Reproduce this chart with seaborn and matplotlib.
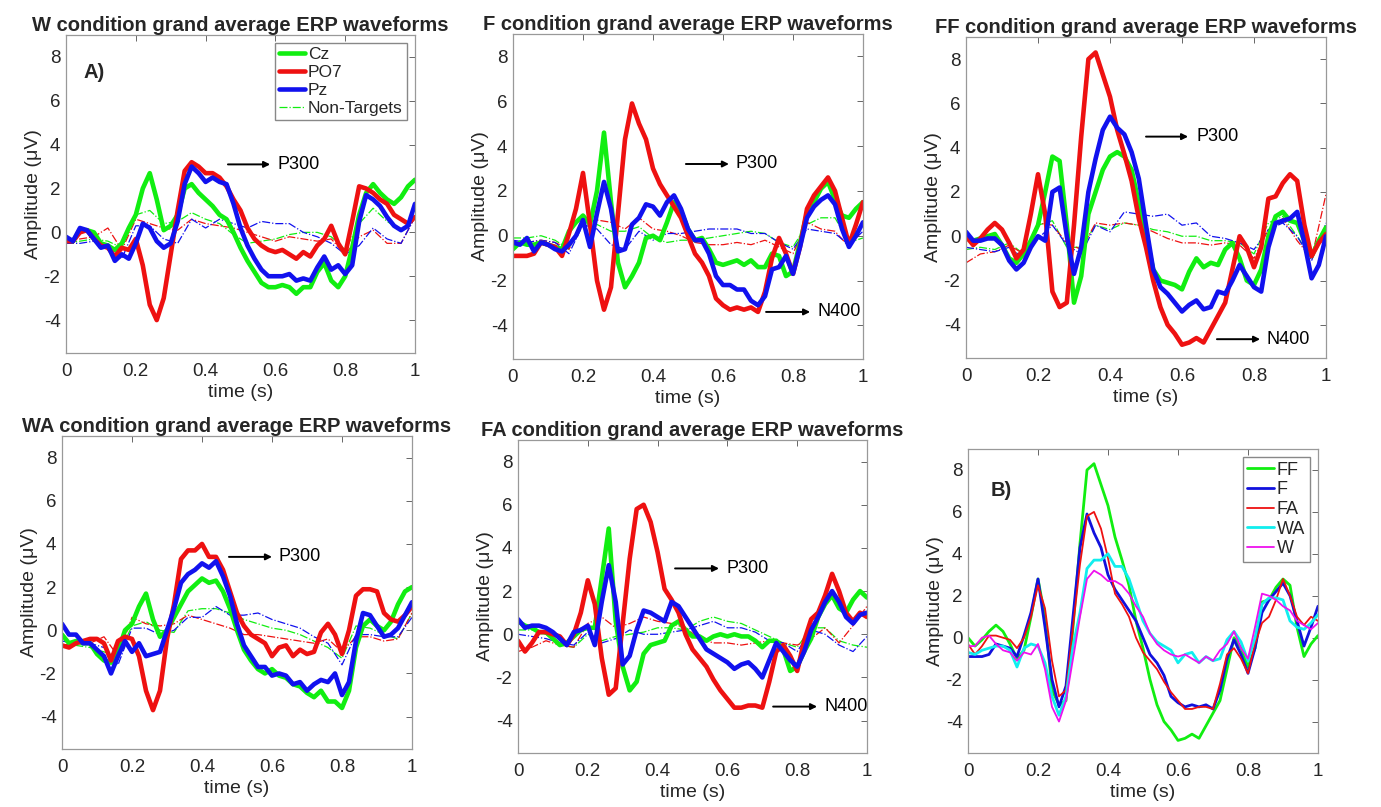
import matplotlib
matplotlib.use("Agg")
import matplotlib.pyplot as plt
from matplotlib.lines import Line2D
import numpy as np
import seaborn as sns

# eixo do tempo (s): curvas alvo a cada 20 ms, nao-alvo a cada 40 ms
T = np.round(np.arange(51) * 0.02, 2)
T_NT = np.round(np.arange(26) * 0.04, 2)

# --- W ---
W_CZ = [-0.3, -0.4, 0.1, 0.1, 0.0, -0.5, -0.6, -0.8, -0.5, 0.2, 0.8, 2.0, 2.7, 1.5, 0.1, 0.3, 0.8,
        2.0, 2.2, 1.8, 1.5, 1.2, 0.8, 0.6, 0.0, -0.7, -1.3, -1.8, -2.3, -2.5, -2.5, -2.4, -2.5, -2.8,
        -2.5, -2.5, -1.8, -1.4, -2.2, -2.5, -2.0, -0.7, 0.8, 1.8, 2.2, 1.8, 1.5, 1.3, 1.6, 2.1, 2.4]
W_PO7 = [-0.4, -0.4, 0.0, 0.1, -0.3, -0.6, -0.7, -1.1, -0.7, -0.8, -0.3, -1.5, -3.3, -4.0, -3.0, -1.0,
         1.0, 2.8, 3.2, 3.0, 2.7, 2.7, 2.5, 2.1, 1.5, 1.0, 0.2, -0.3, -0.6, -0.8, -0.9, -0.8, -1.0, -1.2,
         -0.9, -1.1, -0.6, -0.3, 0.3, -0.5, -1.0, 0.5, 2.1, 2.0, 1.8, 1.5, 1.3, 0.8, 0.6, 0.4, 0.7]
W_PZ = [-0.2, -0.4, 0.2, 0.1, -0.3, -0.7, -0.6, -1.3, -1.0, -1.2, -0.5, 0.4, 0.2, -0.4, -0.7, -0.5, 0.5,
        2.2, 3.0, 2.7, 2.3, 2.5, 2.3, 2.2, 1.3, 0.2, -0.6, -1.2, -1.7, -2.0, -2.0, -2.0, -1.9, -2.2, -2.1,
        -2.2, -1.6, -1.1, -1.7, -1.5, -1.9, -1.5, 0.5, 1.7, 1.5, 1.2, 0.7, 0.3, 0.1, 0.3, 1.3]
W_NT_CZ = [-0.5, -0.4, -0.3, -0.4, -0.7, 0.8, 1.0, 0.4, 0.5, 0.9, 0.6, 0.4, -0.1, -0.5, -0.4, -0.3,
           -0.1, 0.0, 0.0, -0.2, -0.8, 0.4, 1.1, 0.5, 0.1, 0.7]
W_NT_PO7 = [-0.4, -0.3, -0.2, 0.2, -0.8, 0.6, 0.4, 0.2, 0.1, 0.6, 0.4, 0.3, 0.2, 0.0, -0.2, -0.4,
            -0.2, -0.3, -0.4, -0.3, -1.0, -0.2, 0.1, -0.5, -0.5, 0.7]
W_NT_PZ = [-0.5, -0.5, -0.4, -0.6, -1.2, 0.3, 0.3, -0.3, -0.5, 0.6, 0.2, 0.6, 0.4, 0.2, 0.5, 0.4,
           0.4, 0.0, -0.2, -0.5, -1.0, -0.6, 0.2, -0.3, -0.5, 0.7]

# --- F ---
F_CZ = [-0.6, -0.3, -0.4, -0.4, -0.3, -0.4, -0.5, -0.6, 0.2, 0.6, 0.9, 0.5, 2.0, 4.6, 1.5, -1.2, -2.3,
        -1.8, -1.2, -0.1, 0.0, -0.2, 0.6, 1.5, 1.1, 0.3, -0.2, -0.1, -0.6, -1.2, -1.3, -1.2, -1.1, -1.3,
        -1.1, -1.4, -1.4, -0.8, -0.9, -1.8, -1.6, -0.3, 1.0, 1.5, 2.1, 2.4, 1.6, 0.9, 0.8, 1.2, 1.5]
F_PO7 = [-0.9, -0.9, -0.9, -0.8, -0.3, -0.4, -0.5, -0.9, 0.1, 1.2, 2.8, 0.5, -2.0, -3.3, -2.3, 1.0,
         4.3, 5.9, 5.0, 4.3, 3.0, 2.3, 1.8, 1.3, 0.8, 0.0, -0.8, -1.2, -1.8, -2.8, -3.1, -3.3, -3.2, -3.3,
         -3.2, -3.4, -2.5, -1.0, -0.1, -0.8, -1.7, -0.5, 1.2, 1.8, 2.2, 2.6, 2.0, 0.8, -0.4, 0.5, 1.5]
F_PZ = [-0.3, -0.4, -0.1, -0.7, -0.3, -0.4, -0.6, -0.7, -0.4, 0.0, 0.7, -0.5, 1.0, 2.4, 1.2, -0.7, -0.6,
        0.5, 0.8, 1.4, 1.3, 0.9, 1.5, 1.8, 1.2, 0.3, -0.2, -0.2, -0.8, -1.8, -2.2, -2.2, -2.4, -2.4, -2.9,
        -3.1, -2.7, -1.5, -1.4, -0.9, -1.7, -0.5, 0.8, 1.3, 1.6, 1.8, 1.4, 0.3, -0.5, 0.0, 0.6]
F_NT_CZ = [-0.1, -0.1, 0.0, -0.2, -0.6, 0.8, 0.5, 0.2, 0.2, 0.4, -0.1, -0.3, -0.2, -0.2, -0.1, 0.0,
           0.1, 0.2, 0.1, -0.3, -0.5, 0.5, 0.8, 0.8, -0.3, -0.1]
F_NT_PO7 = [-0.4, -0.3, -0.2, -0.3, -0.6, 0.6, 0.7, 0.6, 0.3, 0.8, 0.3, 0.2, 0.0, -0.3, -0.4, -0.4,
            -0.3, -0.4, -0.2, -0.5, -0.8, 0.6, 0.3, 0.2, -0.5, 0.5]
F_NT_PZ = [-0.2, -0.3, -0.2, -0.3, -0.8, 0.5, 0.3, -0.4, -0.6, 0.2, -0.2, 0.1, 0.1, 0.2, 0.3, 0.3,
           0.3, 0.1, 0.1, -0.3, -0.6, 0.3, 0.2, 0.1, -0.4, 0.2]

# --- FF ---
FF_CZ = [-0.1, -0.2, -0.1, 0.0, 0.1, -0.4, -1.0, -1.2, -0.8, -0.2, 0.5, 2.0, 3.6, 3.4, 0.5, -3.0, -1.8,
         1.0, 2.0, 3.0, 3.6, 3.8, 3.6, 3.0, 1.5, 0.0, -1.5, -2.0, -2.1, -2.2, -2.4, -1.6, -1.0, -1.4,
         -1.2, -1.3, -0.6, -0.3, -1.0, -2.0, -2.2, -1.5, 0.0, 0.9, 1.1, 0.7, 0.6, -0.2, -0.9, -0.2, 0.4]
FF_PO7 = [0.0, -0.4, -0.1, 0.3, 0.6, 0.3, -0.3, -1.0, -0.6, 1.0, 2.8, 1.0, -2.5, -3.2, -3.0, 0.5,
          4.5, 8.0, 8.3, 7.3, 6.3, 4.8, 3.7, 2.5, 0.8, -0.5, -2.0, -3.2, -4.0, -4.4, -4.9, -4.8, -4.6,
          -4.8, -4.2, -3.6, -3.0, -1.5, 0.0, -0.5, -1.4, -0.5, 1.7, 1.8, 2.4, 2.8, 2.5, 0.5, -0.9, -0.3, 0.1]
FF_PZ = [0.2, -0.2, -0.2, -0.1, -0.1, -0.4, -1.1, -1.5, -1.2, -0.5, 0.0, -0.2, 2.0, 2.2, 0.0, -1.7,
         -0.5, 2.0, 3.5, 4.8, 5.4, 4.9, 4.6, 3.8, 2.6, 0.5, -1.5, -2.3, -2.6, -3.0, -3.4, -3.1, -2.9,
         -3.3, -3.2, -2.5, -2.6, -2.0, -1.3, -1.8, -2.3, -2.5, -0.5, 0.6, 0.7, 0.8, 1.1, -0.3, -1.9, -1.3, 0.0]
FF_NT_CZ = [-0.6, -0.5, -0.6, -0.3, -0.8, 0.5, 0.7, -0.5, -0.5, 0.5, 0.3, 0.6, 0.5, 0.3, 0.2, 0.0,
            0.0, -0.2, -0.2, -0.3, -0.8, 0.6, 0.9, 0.0, -1.0, 0.5]
FF_NT_PO7 = [-1.2, -0.8, -0.7, -0.4, -0.8, 0.6, 0.5, -0.3, -0.6, 0.6, 0.5, 0.6, 0.5, 0.2, -0.1, -0.3,
             -0.3, -0.4, -0.3, -0.4, -1.0, 0.3, 0.8, -0.2, -1.0, 1.9]
FF_NT_PZ = [-0.5, -0.6, -0.7, -0.5, -1.0, -0.1, 0.5, -0.4, -0.8, 0.5, 0.2, 1.1, 1.0, 0.9, 1.0, 0.5,
            0.6, 0.0, -0.1, -0.3, -0.6, 0.3, 0.6, 0.0, -1.1, 0.6]

# --- WA ---
WA_CZ = [-0.2, -0.6, -0.5, -0.6, -0.6, -1.1, -1.4, -1.5, -1.0, 0.0, 0.3, 1.1, 1.7, 0.5, -0.3, 0.0, 0.6,
         1.2, 1.8, 2.1, 2.4, 2.2, 2.3, 1.8, 1.0, 0.0, -0.9, -1.4, -1.8, -2.0, -1.8, -2.1, -2.2, -2.5,
         -2.6, -2.9, -3.1, -2.8, -3.3, -3.3, -3.6, -2.8, -0.8, 0.2, 0.5, 0.2, 0.0, 0.4, 1.2, 1.8, 2.0]
WA_PO7 = [-0.7, -0.8, -0.6, -0.5, -0.4, -0.4, -0.6, -1.4, -0.5, -0.3, -0.4, -1.2, -2.8, -3.7, -2.8,
          -0.4, 1.2, 3.3, 3.7, 3.7, 4.0, 3.4, 3.4, 2.8, 1.8, 0.8, 0.2, -0.2, -0.4, -0.6, -1.2, -0.8, -0.7,
          -1.2, -0.9, -1.1, -1.0, -0.1, 0.3, -0.2, -1.1, 0.0, 1.6, 1.9, 1.9, 1.8, 0.8, 0.5, 0.4, 0.7, 1.1]
WA_PZ = [0.3, -0.2, -0.2, -0.6, -0.6, -0.9, -1.2, -2.0, -1.2, -0.5, -1.0, -0.6, -1.2, -1.1, -1.0, 0.0,
         1.0, 2.2, 2.6, 2.8, 3.1, 2.9, 3.2, 2.5, 1.6, 0.3, -0.7, -1.2, -1.7, -1.7, -2.1, -2.0, -2.1, -2.5,
         -2.4, -2.8, -2.5, -2.3, -2.4, -2.0, -3.0, -2.4, -0.5, 0.8, 0.7, 0.2, -0.3, -0.2, 0.1, 0.7, 1.3]
WA_NT_CZ = [-0.7, -0.7, -0.8, -1.0, -1.2, 0.2, 0.4, 0.0, -0.1, 0.9, 1.0, 1.0, 0.8, 0.5, 0.3, 0.1,
            0.0, -0.2, -0.5, -0.8, -1.3, 0.2, 0.1, -0.2, -0.4, 0.8]
WA_NT_PO7 = [-0.7, -0.6, -0.6, -0.3, -1.2, 0.6, 0.3, 0.2, 0.3, 0.7, 0.5, 0.3, 0.1, -0.2, -0.2, -0.3,
             -0.4, -0.5, -0.6, -0.4, -1.0, -0.3, -0.3, -0.5, -0.4, 0.8]
WA_NT_PZ = [-0.5, -0.6, -0.6, -0.8, -1.6, 0.1, 0.1, -0.2, 0.0, 0.6, 0.6, 1.1, 0.7, 0.7, 0.8, 0.5,
            0.3, 0.1, -0.3, -0.6, -1.6, -0.2, -0.2, -0.3, -0.3, 0.6]

# --- FA ---
FA_CZ = [0.6, 0.4, 0.3, 0.1, 0.1, -0.2, -0.5, -0.4, -0.1, 0.2, 0.3, 0.3, 2.6, 4.9, 0.6, -1.5, -2.6,
         -2.2, -0.9, -0.5, -0.4, -0.3, 0.4, 0.6, 0.2, -0.1, -0.1, -0.3, -0.1, 0.0, -0.1, 0.0, -0.1, -0.1,
         -0.3, -0.6, -0.3, -0.3, -0.7, -1.7, -1.5, -0.8, -0.2, 0.8, 1.4, 1.8, 1.2, 1.0, 1.6, 2.0, 1.7]
FA_PO7 = [-0.3, -0.8, -0.4, 0.1, 0.1, 0.0, -0.1, -0.5, 0.0, 1.0, 2.5, 1.4, -1.1, -2.8, -2.5, 0.5,
          3.5, 5.8, 6.0, 5.2, 3.8, 2.1, 1.6, 1.0, 0.0, -0.7, -1.1, -1.5, -2.1, -2.6, -3.0, -3.4, -3.4,
          -3.3, -3.3, -3.4, -2.2, -0.8, -0.5, -1.0, -1.7, -0.3, 0.7, 1.0, 1.8, 2.8, 2.0, 1.0, 0.6, 1.0, 0.8]
FA_PZ = [0.7, 0.3, 0.4, 0.4, 0.3, 0.1, -0.2, -0.5, 0.1, 0.2, 0.4, -0.5, 1.5, 3.2, 1.5, -1.4, -1.0,
         0.2, 1.1, 1.0, 0.8, 0.6, 1.5, 1.3, 0.8, 0.3, -0.2, -0.7, -0.9, -1.1, -1.3, -1.6, -1.4, -1.3,
         -1.6, -2.0, -1.2, -0.4, -0.8, -1.2, -1.5, -0.8, 0.2, 0.8, 1.5, 2.0, 1.5, 0.8, 0.5, 0.9, 1.0]
FA_NT_CZ = [0.2, 0.2, 0.0, -0.5, -0.6, 0.0, -0.3, -0.1, 0.0, 0.1, 0.3, 0.3, 0.2, 0.6, 0.8, 0.6,
            0.5, 0.2, -0.1, -0.4, -0.6, 0.3, 0.3, -0.3, -0.5, -0.6]
FA_NT_PO7 = [-0.8, -0.6, -0.3, -0.5, -0.6, 0.5, 0.8, 0.3, 0.5, 0.8, 0.6, 0.5, 0.3, -0.2, -0.4, -0.4,
             -0.5, -0.4, -0.3, -0.4, -0.5, -0.2, 0.3, -0.4, 0.4, 1.3]
FA_NT_PZ = [0.0, -0.1, -0.2, -0.4, -0.5, 0.1, -0.4, -0.2, 0.2, 0.0, 0.0, 0.1, 0.2, 0.4, 0.6, 0.3,
            0.3, 0.1, -0.3, -0.4, -0.8, 0.2, 0.0, -0.5, -0.8, -0.1]

CANAIS = ["Cz", "PO7", "Pz"]
CORES = {"Cz": "#11ee11", "PO7": "#ee1111", "Pz": "#1111ee"}
CORES_B = {"FF": "#11ee11", "F": "#1111dd", "FA": "#ee1111", "WA": "#11eeee", "W": "#ee11ee"}
LW_B = {"FF": 2.0, "F": 2.0, "FA": 1.3, "WA": 2.0, "W": 1.3}

sns.set_style("white")
plt.rcParams["font.family"] = ["Liberation Sans", "DejaVu Sans"]
plt.rcParams["axes.unicode_minus"] = False

TXT = "#262626"


def estilo(ax):
    ax.set_xlim(0, 1)
    ax.set_ylim(-5.5, 9)
    ax.set_xticks([0, 0.2, 0.4, 0.6, 0.8, 1])
    ax.set_xticklabels(["0", "0.2", "0.4", "0.6", "0.8", "1"])
    ax.set_yticks([-4, -2, 0, 2, 4, 6, 8])
    ax.tick_params(direction="in", top=True, right=True, length=4, width=0.7,
                   color="#666666", labelsize=13.5, labelcolor=TXT)
    ax.tick_params(axis="x", pad=7)
    ax.tick_params(axis="y", pad=4)
    for s in ax.spines.values():
        s.set_color("#999999")
        s.set_linewidth(0.9)
    ax.set_xlabel("time (s)", fontsize=14, color=TXT, labelpad=3)
    ax.set_ylabel("Amplitude (\u03bcV)", fontsize=14, color=TXT, labelpad=1)


def painel(ax, titulo, alvo, nt, setas):
    for canal, nt_vals in zip(CANAIS, nt):
        sns.lineplot(x=T_NT, y=nt_vals, ax=ax, color=CORES[canal], lw=0.9, linestyle="-.")
    for canal, vals in zip(CANAIS, alvo):
        sns.lineplot(x=T, y=vals, ax=ax, color=CORES[canal], lw=3.3)
    for nome, x0, x1, y, xt in setas:
        ax.annotate("", xy=(x1, y), xytext=(x0, y),
                    arrowprops=dict(arrowstyle="-|>", color="k", lw=1.4, mutation_scale=9,
                                    shrinkA=0, shrinkB=0))
        ax.text(xt, y, nome, fontsize=13, va="center", ha="left", color="k")
    ax.set_title(titulo, fontsize=14.5, fontweight="bold", pad=3)
    estilo(ax)


W, H = 1381, 807
fig = plt.figure(figsize=(W / 100, H / 100), dpi=100)
fig.patch.set_facecolor("white")


def caixa(l, r, t, b):
    return fig.add_axes([l / W, 1 - b / H, (r - l) / W, (b - t) / H])


ax1 = caixa(66, 415, 35, 353)
ax2 = caixa(513, 863, 34, 359)
ax3 = caixa(966, 1326, 37, 358)
ax4 = caixa(62, 412, 436, 749)
ax5 = caixa(518, 867, 440, 753)
ax6 = caixa(968, 1318, 449, 753)

painel(ax1, "W condition grand average ERP waveforms", [W_CZ, W_PO7, W_PZ],
       [W_NT_CZ, W_NT_PO7, W_NT_PZ], [("P300", 0.464, 0.585, 3.1, 0.607)])
painel(ax2, "F condition grand average ERP waveforms", [F_CZ, F_PO7, F_PZ],
       [F_NT_CZ, F_NT_PO7, F_NT_PZ],
       [("P300", 0.494, 0.617, 3.2, 0.637), ("N400", 0.723, 0.849, -3.4, 0.869)])
painel(ax3, "FF condition grand average ERP waveforms", [FF_CZ, FF_PO7, FF_PZ],
       [FF_NT_CZ, FF_NT_PO7, FF_NT_PZ],
       [("P300", 0.5, 0.617, 4.5, 0.64), ("N400", 0.697, 0.817, -4.65, 0.836)])
painel(ax4, "WA condition grand average ERP waveforms", [WA_CZ, WA_PO7, WA_PZ],
       [WA_NT_CZ, WA_NT_PO7, WA_NT_PZ], [("P300", 0.477, 0.6, 3.4, 0.62)])
painel(ax5, "FA condition grand average ERP waveforms", [FA_CZ, FA_PO7, FA_PZ],
       [FA_NT_CZ, FA_NT_PO7, FA_NT_PZ],
       [("P300", 0.45, 0.576, 3.05, 0.596), ("N400", 0.731, 0.857, -3.35, 0.877)])

# legenda do painel A
hs = [Line2D([], [], color=CORES[c], lw=3.3) for c in CANAIS]
hs.append(Line2D([], [], color=CORES["Cz"], lw=0.9, linestyle="-."))
ax1.legend(hs, CANAIS + ["Non-Targets"], loc="upper right", fontsize=12.5, frameon=True,
           fancybox=False, edgecolor="#888888", framealpha=1, handlelength=1.5,
           handletextpad=0.15, labelspacing=0.15, borderpad=0.25, borderaxespad=0.45)
ax1.text(0.05, 7.3, "A)", fontsize=14.5, fontweight="bold", va="center")

# painel B: PO7 de cada condicao
po7 = {"FF": FF_PO7, "F": F_PO7, "FA": FA_PO7, "WA": WA_PO7, "W": W_PO7}
for cond, vals in po7.items():
    sns.lineplot(x=T, y=vals, ax=ax6, color=CORES_B[cond], lw=LW_B[cond], label=cond)
estilo(ax6)
ax6.legend(loc="upper right", fontsize=13, frameon=True, fancybox=False, edgecolor="#888888",
           framealpha=1, handlelength=1.5, handletextpad=0.15, labelspacing=0.15,
           borderpad=0.25, borderaxespad=0.45)
ax6.text(0.065, 7.0, "B)", fontsize=14.5, fontweight="bold", va="center")

fig.savefig("out.png", dpi=100, facecolor="white")
